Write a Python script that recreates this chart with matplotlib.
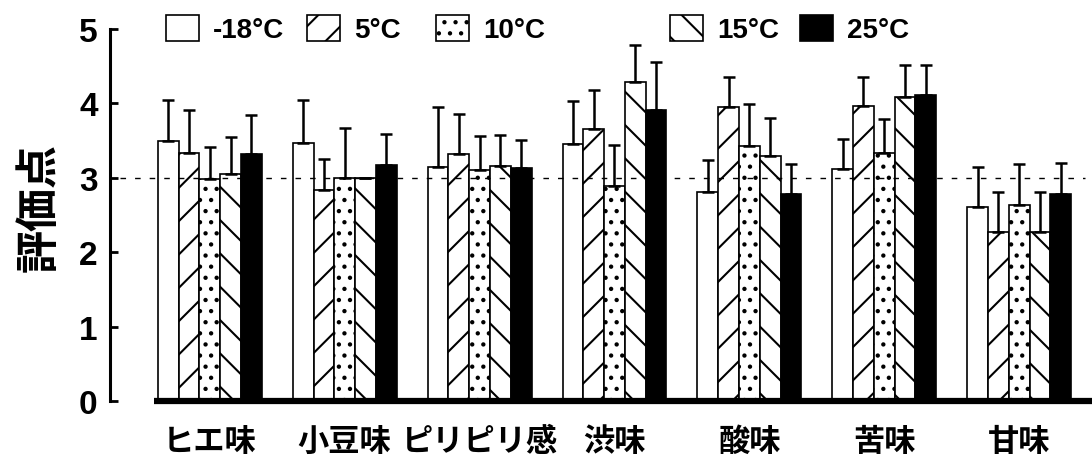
import matplotlib
matplotlib.use("Agg")
import matplotlib.pyplot as plt
from matplotlib.patches import Patch
import numpy as np

# ---- data -------------------------------------------------------------
categories = ["ヒエ味", "小豆味", "ピリピリ感", "渋味", "酸味", "苦味", "甘味"]
series_labels = ["-18°C", "5°C", "10°C", "15°C", "25°C"]

mean_m18 = [3.49, 3.47, 3.14, 3.46, 2.81, 3.12, 2.61]
mean_5 = [3.34, 2.84, 3.32, 3.66, 3.95, 3.96, 2.27]
mean_10 = [2.99, 3.00, 3.11, 2.89, 3.43, 3.34, 2.64]
mean_15 = [3.05, 3.00, 3.16, 4.29, 3.29, 4.09, 2.27]
mean_25 = [3.32, 3.17, 3.13, 3.91, 2.78, 4.11, 2.78]

sd_m18 = [0.56, 0.57, 0.81, 0.57, 0.43, 0.40, 0.53]
sd_5 = [0.57, 0.41, 0.54, 0.52, 0.41, 0.40, 0.54]
sd_10 = [0.43, 0.67, 0.45, 0.55, 0.56, 0.45, 0.55]
sd_15 = [0.50, 0.00, 0.42, 0.49, 0.52, 0.42, 0.54]
sd_25 = [0.52, 0.42, 0.38, 0.65, 0.40, 0.41, 0.42]

reference_score = 3.0
y_ticks = [0, 1, 2, 3, 4, 5]

means = [mean_m18, mean_5, mean_10, mean_15, mean_25]
sds = [sd_m18, sd_5, sd_10, sd_15, sd_25]

# ---- styling ----------------------------------------------------------
# Rendered at a high dpi so the hatch textures come out coarse; every
# point-based size is scaled by S so it keeps its pixel size.
DPI = 200
S = 100 / DPI

face_colors = ["white", "white", "white", "white", "black"]
hatches = [None, "//", "...", "\\\\", None]

cjk = ["Noto Sans CJK JP", "DejaVu Sans"]
latin = ["Liberation Sans", "DejaVu Sans"]
plt.rcParams["hatch.linewidth"] = 1.5 * S
plt.rcParams["hatch.color"] = "black"

W, H = 1092, 464
fig = plt.figure(figsize=(W / DPI, H / DPI), dpi=DPI)
ax = fig.add_axes([110 / W, (H - 402) / H, (W - 110) / W, (402 - 30) / H])

x = np.arange(len(categories))
bar_w = 0.154
n = len(series_labels)
offsets = (np.arange(n) - (n - 1) / 2) * bar_w

for i in range(n):
    ax.bar(x + offsets[i], means[i], width=bar_w, color=face_colors[i],
           edgecolor="black", linewidth=1.2 * S, hatch=hatches[i], zorder=2)
    ax.errorbar(x + offsets[i], means[i],
                yerr=[np.zeros(len(categories)), sds[i]], fmt="none",
                ecolor="black", elinewidth=1.8 * S, capsize=4.5 * S,
                capthick=1.8 * S, zorder=3)

# reference level
ax.axhline(reference_score, xmin=0.01, xmax=0.993, color="black",
           lw=1.0 * S, linestyle=(0, (4, 6.5)), zorder=4)

# heavy baseline under the bars
x_left = x[0] + offsets[0] - bar_w / 2 - 0.03
ax.set_xlim(-0.74, 6.54)
ax.plot([x_left, ax.get_xlim()[1]], [0, 0], color="black", lw=4.5 * S,
        solid_capstyle="butt", clip_on=False, zorder=5)

ax.set_ylim(0, 5)
ax.set_yticks(y_ticks)
ax.set_yticklabels([str(t) for t in y_ticks], family=latin,
                   fontweight="bold", fontsize=24 * S)
ax.tick_params(axis="y", direction="in", length=6 * S, width=2 * S,
               pad=9 * S)

ax.set_xticks(x)
ax.set_xticklabels(categories, family=cjk, fontweight="bold",
                   fontsize=22.5 * S)
ax.tick_params(axis="x", length=0, pad=17 * S)

for s in ["top", "right", "bottom"]:
    ax.spines[s].set_visible(False)
ax.spines["left"].set_linewidth(2.2 * S)

fig.text(39 / W, 1 - 208 / H, "評価点", rotation=90, family=cjk,
         fontweight="bold", fontsize=31 * S, ha="center", va="center")

# legend entries laid out along the top
legend_x = [166, 307, 436, 670, 800]
leg_size = 20 * S
for i in range(n):
    h = Patch(facecolor=face_colors[i], edgecolor="black", linewidth=1.2 * S,
              hatch=hatches[i])
    fig.legend(handles=[h], labels=[series_labels[i]], loc="center left",
               bbox_to_anchor=(legend_x[i] / W, 1 - 30 / H), frameon=False,
               borderpad=0, borderaxespad=0, handlelength=1.19,
               handleheight=1.08, handletextpad=0.5,
               prop={"family": latin, "weight": "bold", "size": leg_size})

fig.savefig("out.png", dpi=DPI)
